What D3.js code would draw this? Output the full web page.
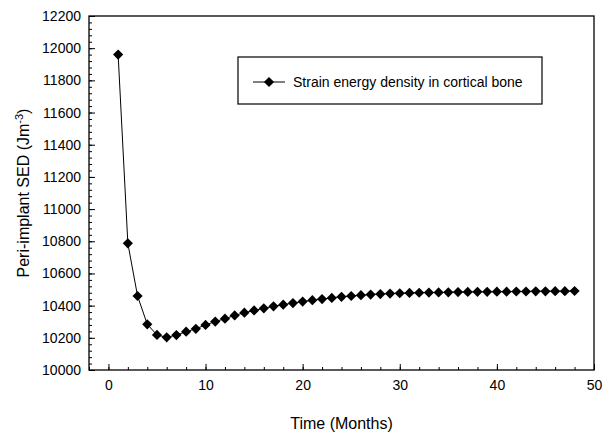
<!DOCTYPE html>
<html lang="en">
<head>
    <meta charset="utf-8">
    <title>Peri-implant SED</title>
    <script src="https://cdn.jsdelivr.net/npm/d3@7/dist/d3.min.js"></script>
    <style>
        body { margin: 0; background: #fff; }
        text { font-family: "Liberation Sans", Arial, sans-serif; fill: #000; }
    </style>
</head>
<body>
    <script>
        // Data: SED in cortical bone per month
        var months = d3.range(1, 49);
        var sed = [11960, 10787, 10460, 10284, 10218, 10203, 10217, 10238, 10256, 10280,
                   10301, 10319, 10339, 10356, 10370, 10383, 10396, 10406, 10416, 10425,
                   10434, 10441, 10448, 10455, 10460, 10465, 10469, 10472, 10475, 10477,
                   10479, 10480, 10481, 10482, 10483, 10484, 10485, 10486, 10486, 10487,
                   10487, 10488, 10488, 10489, 10489, 10490, 10490, 10491];
        var xTicks = [0, 10, 20, 30, 40, 50];
        var yTicks = d3.range(10000, 12201, 200);
        var legendLabel = "Strain energy density in cortical bone";

        var width = 611, height = 436;
        var margin = { top: 16, right: 17, bottom: 66, left: 89 };
        var w = width - margin.left - margin.right;
        var h = height - margin.top - margin.bottom;

        var svg = d3.select("body").append("svg")
            .attr("width", width)
            .attr("height", height);

        var g = svg.append("g")
            .attr("transform", "translate(" + margin.left + "," + margin.top + ")");

        var x = d3.scaleLinear().domain([-2, 50]).range([0, w]);
        var y = d3.scaleLinear().domain([10000, 12200]).range([h, 0]);

        // minor ticks first
        g.append("g")
            .attr("transform", "translate(0," + h + ")")
            .call(d3.axisBottom(x).tickValues(d3.range(-2, 51, 2)).tickFormat("").tickSize(-3))
            .call(function (s) { s.select(".domain").remove(); });
        g.append("g")
            .call(d3.axisLeft(y).tickValues(d3.range(10000, 12201, 40)).tickFormat("").tickSize(-3))
            .call(function (s) { s.select(".domain").remove(); });

        // major ticks + labels
        g.append("g")
            .attr("transform", "translate(0," + h + ")")
            .call(d3.axisBottom(x).tickValues(xTicks).tickFormat(d3.format("d")).tickSize(-6).tickPadding(10))
            .call(function (s) {
                s.select(".domain").remove();
                s.selectAll("text").style("font-size", "14px");
            });
        g.append("g")
            .call(d3.axisLeft(y).tickValues(yTicks).tickFormat(d3.format("d")).tickSize(-6).tickPadding(8))
            .call(function (s) {
                s.select(".domain").remove();
                s.selectAll("text").style("font-size", "14px");
            });

        // frame
        g.append("rect")
            .attr("width", w)
            .attr("height", h)
            .attr("fill", "none")
            .attr("stroke", "#000")
            .attr("stroke-width", 1.3);

        var data = months.map(function (m, i) { return { m: m, v: sed[i] }; });

        g.append("path")
            .datum(data)
            .attr("fill", "none")
            .attr("stroke", "#000")
            .attr("stroke-width", 1)
            .attr("d", d3.line().x(function (d) { return x(d.m); }).y(function (d) { return y(d.v); }));

        var diamond = d3.symbol().type(d3.symbolSquare).size(52);

        g.selectAll(".pt")
            .data(data)
            .enter().append("path")
            .attr("class", "pt")
            .attr("d", diamond)
            .attr("fill", "#000")
            .attr("transform", function (d) {
                return "translate(" + x(d.m) + "," + y(d.v) + ") rotate(45)";
            });

        // legend
        var lg = svg.append("g");
        lg.append("rect")
            .attr("x", 238).attr("y", 57)
            .attr("width", 304).attr("height", 47)
            .attr("fill", "#fff")
            .attr("stroke", "#000")
            .attr("stroke-width", 1.2);
        lg.append("line")
            .attr("x1", 253).attr("x2", 285)
            .attr("y1", 82).attr("y2", 82)
            .attr("stroke", "#000");
        lg.append("path")
            .attr("d", diamond)
            .attr("transform", "translate(269,82) rotate(45)");
        lg.append("text")
            .attr("x", 293).attr("y", 87)
            .style("font-size", "14px")
            .text(legendLabel);

        // axis titles
        svg.append("text")
            .attr("x", margin.left + w / 2)
            .attr("y", 429)
            .attr("text-anchor", "middle")
            .style("font-size", "16px")
            .text("Time (Months)");

        var yt = svg.append("text")
            .attr("transform", "translate(29," + (margin.top + h / 2) + ") rotate(-90)")
            .attr("text-anchor", "middle")
            .style("font-size", "16px");
        yt.append("tspan").text("Peri-implant SED (Jm");
        yt.append("tspan").attr("dy", -6).style("font-size", "11px").text("-3");
        yt.append("tspan").attr("dy", 6).text(")");
    </script>
</body>
</html>
